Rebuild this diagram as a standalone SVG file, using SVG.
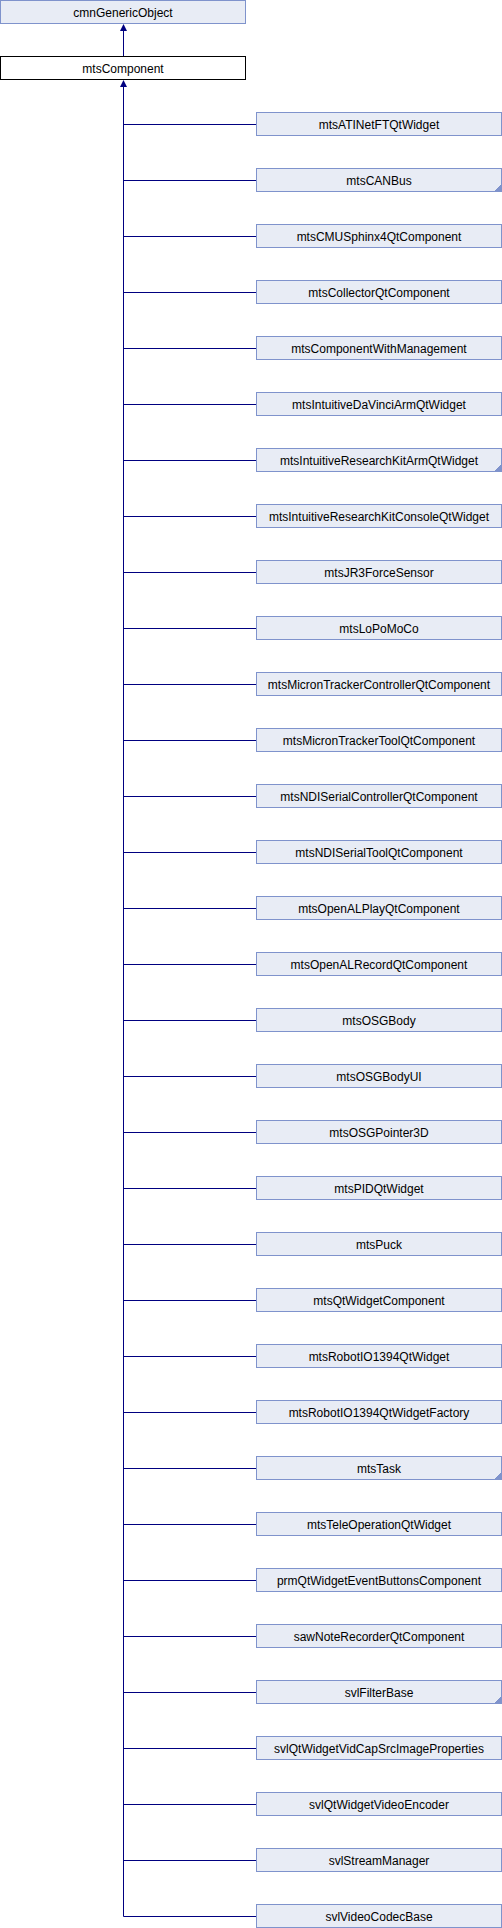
<svg xmlns="http://www.w3.org/2000/svg" width="502" height="1928" viewBox="0 0 502 1928">
<style>
rect.n{fill:#e8ecf5;stroke:#7f93cc;stroke-width:1}
rect.m{fill:#ffffff;stroke:#000000;stroke-width:1}
text{font-family:"Liberation Sans",Arial,sans-serif;font-size:12px;fill:#000000;text-anchor:middle}
.e{stroke:#000080;stroke-width:1;fill:none}
.a{fill:#000080;stroke:none}
.c{fill:#7f93cc;stroke:none}
</style>
<defs>
<path id="corner" class="c" d="M0,0 L-1,0 L-1,1 L-2,1 L-2,2 L-3,2 L-3,3 L-4,3 L-4,4 L-5,4 L-5,5 L-6,5 L-6,6 L0,6 Z"/>
</defs>
<g id="connectors">
<line class="e" x1="123.5" y1="30" x2="123.5" y2="56.5"/>
<polygon class="a" points="123.5,24 120,31 127,31"/>
<line class="e" x1="123.5" y1="86" x2="123.5" y2="1916.5"/>
<polygon class="a" points="123.5,80 120,87 127,87"/>
<path class="e" d="M123.5,124.5H256 M123.5,180.5H256 M123.5,236.5H256 M123.5,292.5H256 M123.5,348.5H256 M123.5,404.5H256 M123.5,460.5H256 M123.5,516.5H256 M123.5,572.5H256 M123.5,628.5H256 M123.5,684.5H256 M123.5,740.5H256 M123.5,796.5H256 M123.5,852.5H256 M123.5,908.5H256 M123.5,964.5H256 M123.5,1020.5H256 M123.5,1076.5H256 M123.5,1132.5H256 M123.5,1188.5H256 M123.5,1244.5H256 M123.5,1300.5H256 M123.5,1356.5H256 M123.5,1412.5H256 M123.5,1468.5H256 M123.5,1524.5H256 M123.5,1580.5H256 M123.5,1636.5H256 M123.5,1692.5H256 M123.5,1748.5H256 M123.5,1804.5H256 M123.5,1860.5H256 M123.5,1916.5H256"/>
</g>
<g id="cmnGenericObject"><rect class="n" x="0.5" y="0.5" width="245" height="23"/><text x="123" y="16.5">cmnGenericObject</text></g>
<g id="mtsComponent"><rect class="m" x="0.5" y="56.5" width="245" height="23"/><text x="123" y="72.5">mtsComponent</text></g>
<g id="mtsATINetFTQtWidget"><rect class="n" x="256.5" y="112.5" width="245" height="23"/><text x="379" y="128.5">mtsATINetFTQtWidget</text></g>
<g id="mtsCANBus"><rect class="n" x="256.5" y="168.5" width="245" height="23"/><use href="#corner" x="501" y="185"/><text x="379" y="184.5">mtsCANBus</text></g>
<g id="mtsCMUSphinx4QtComponent"><rect class="n" x="256.5" y="224.5" width="245" height="23"/><text x="379" y="240.5">mtsCMUSphinx4QtComponent</text></g>
<g id="mtsCollectorQtComponent"><rect class="n" x="256.5" y="280.5" width="245" height="23"/><text x="379" y="296.5">mtsCollectorQtComponent</text></g>
<g id="mtsComponentWithManagement"><rect class="n" x="256.5" y="336.5" width="245" height="23"/><text x="379" y="352.5">mtsComponentWithManagement</text></g>
<g id="mtsIntuitiveDaVinciArmQtWidget"><rect class="n" x="256.5" y="392.5" width="245" height="23"/><text x="379" y="408.5">mtsIntuitiveDaVinciArmQtWidget</text></g>
<g id="mtsIntuitiveResearchKitArmQtWidget"><rect class="n" x="256.5" y="448.5" width="245" height="23"/><use href="#corner" x="501" y="465"/><text x="379" y="464.5">mtsIntuitiveResearchKitArmQtWidget</text></g>
<g id="mtsIntuitiveResearchKitConsoleQtWidget"><rect class="n" x="256.5" y="504.5" width="245" height="23"/><text x="379" y="520.5">mtsIntuitiveResearchKitConsoleQtWidget</text></g>
<g id="mtsJR3ForceSensor"><rect class="n" x="256.5" y="560.5" width="245" height="23"/><text x="379" y="576.5">mtsJR3ForceSensor</text></g>
<g id="mtsLoPoMoCo"><rect class="n" x="256.5" y="616.5" width="245" height="23"/><text x="379" y="632.5">mtsLoPoMoCo</text></g>
<g id="mtsMicronTrackerControllerQtComponent"><rect class="n" x="256.5" y="672.5" width="245" height="23"/><text x="379" y="688.5">mtsMicronTrackerControllerQtComponent</text></g>
<g id="mtsMicronTrackerToolQtComponent"><rect class="n" x="256.5" y="728.5" width="245" height="23"/><text x="379" y="744.5">mtsMicronTrackerToolQtComponent</text></g>
<g id="mtsNDISerialControllerQtComponent"><rect class="n" x="256.5" y="784.5" width="245" height="23"/><text x="379" y="800.5">mtsNDISerialControllerQtComponent</text></g>
<g id="mtsNDISerialToolQtComponent"><rect class="n" x="256.5" y="840.5" width="245" height="23"/><text x="379" y="856.5">mtsNDISerialToolQtComponent</text></g>
<g id="mtsOpenALPlayQtComponent"><rect class="n" x="256.5" y="896.5" width="245" height="23"/><text x="379" y="912.5">mtsOpenALPlayQtComponent</text></g>
<g id="mtsOpenALRecordQtComponent"><rect class="n" x="256.5" y="952.5" width="245" height="23"/><text x="379" y="968.5">mtsOpenALRecordQtComponent</text></g>
<g id="mtsOSGBody"><rect class="n" x="256.5" y="1008.5" width="245" height="23"/><text x="379" y="1024.5">mtsOSGBody</text></g>
<g id="mtsOSGBodyUI"><rect class="n" x="256.5" y="1064.5" width="245" height="23"/><text x="379" y="1080.5">mtsOSGBodyUI</text></g>
<g id="mtsOSGPointer3D"><rect class="n" x="256.5" y="1120.5" width="245" height="23"/><text x="379" y="1136.5">mtsOSGPointer3D</text></g>
<g id="mtsPIDQtWidget"><rect class="n" x="256.5" y="1176.5" width="245" height="23"/><text x="379" y="1192.5">mtsPIDQtWidget</text></g>
<g id="mtsPuck"><rect class="n" x="256.5" y="1232.5" width="245" height="23"/><text x="379" y="1248.5">mtsPuck</text></g>
<g id="mtsQtWidgetComponent"><rect class="n" x="256.5" y="1288.5" width="245" height="23"/><text x="379" y="1304.5">mtsQtWidgetComponent</text></g>
<g id="mtsRobotIO1394QtWidget"><rect class="n" x="256.5" y="1344.5" width="245" height="23"/><text x="379" y="1360.5">mtsRobotIO1394QtWidget</text></g>
<g id="mtsRobotIO1394QtWidgetFactory"><rect class="n" x="256.5" y="1400.5" width="245" height="23"/><text x="379" y="1416.5">mtsRobotIO1394QtWidgetFactory</text></g>
<g id="mtsTask"><rect class="n" x="256.5" y="1456.5" width="245" height="23"/><use href="#corner" x="501" y="1473"/><text x="379" y="1472.5">mtsTask</text></g>
<g id="mtsTeleOperationQtWidget"><rect class="n" x="256.5" y="1512.5" width="245" height="23"/><text x="379" y="1528.5">mtsTeleOperationQtWidget</text></g>
<g id="prmQtWidgetEventButtonsComponent"><rect class="n" x="256.5" y="1568.5" width="245" height="23"/><text x="379" y="1584.5">prmQtWidgetEventButtonsComponent</text></g>
<g id="sawNoteRecorderQtComponent"><rect class="n" x="256.5" y="1624.5" width="245" height="23"/><text x="379" y="1640.5">sawNoteRecorderQtComponent</text></g>
<g id="svlFilterBase"><rect class="n" x="256.5" y="1680.5" width="245" height="23"/><use href="#corner" x="501" y="1697"/><text x="379" y="1696.5">svlFilterBase</text></g>
<g id="svlQtWidgetVidCapSrcImageProperties"><rect class="n" x="256.5" y="1736.5" width="245" height="23"/><text x="379" y="1752.5">svlQtWidgetVidCapSrcImageProperties</text></g>
<g id="svlQtWidgetVideoEncoder"><rect class="n" x="256.5" y="1792.5" width="245" height="23"/><text x="379" y="1808.5">svlQtWidgetVideoEncoder</text></g>
<g id="svlStreamManager"><rect class="n" x="256.5" y="1848.5" width="245" height="23"/><text x="379" y="1864.5">svlStreamManager</text></g>
<g id="svlVideoCodecBase"><rect class="n" x="256.5" y="1904.5" width="245" height="23"/><text x="379" y="1920.5">svlVideoCodecBase</text></g>
</svg>
